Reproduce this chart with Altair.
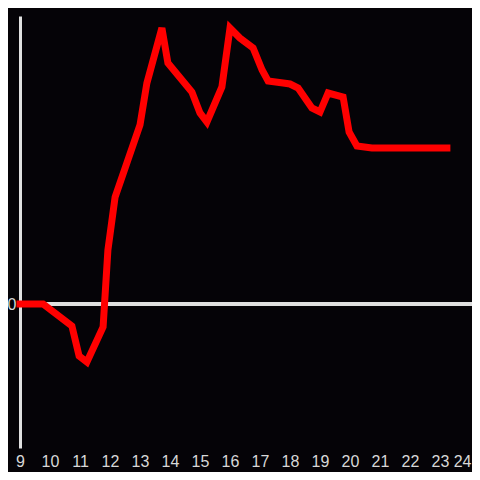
import altair as alt
import pandas as pd

hours = [9.0, 9.77, 10.73, 10.97, 11.23, 11.77, 11.93, 12.17, 13.0, 13.23, 13.73, 13.93,
         14.73, 15.0, 15.23, 15.73, 16.0, 16.33, 16.77, 17.07, 17.27, 17.77, 18.0, 18.27,
         18.73, 19.0, 19.27, 19.77, 19.97, 20.23, 20.73, 23.23]
values = [0, 0, -22, -52, -58, -23, 54, 107, 179, 221, 276, 241,
          212, 191, 182, 217, 276, 266, 256, 234, 223, 221, 220, 216,
          196, 192, 211, 207, 172, 158, 156, 156]
x_ticks = list(range(9, 25))

df = pd.DataFrame({"hour": hours, "value": values})

x_max = 9 + 452 / 30
xs = alt.Scale(domain=[9, x_max], nice=False, zero=False)
ys = alt.Scale(domain=[-144, 288], nice=False, zero=False)

x_axis = alt.Axis(values=x_ticks, title=None, domain=False, ticks=False, grid=False,
                  labelColor="#d8d8d8", labelFont="Liberation Sans", labelFontSize=16,
                  labelPadding=5, labelFlush=False, labelOverlap=False,
                  labelAlign=alt.expr("datum.value == 24 ? 'right' : 'center'"),
                  labelOffset=alt.expr("datum.value == 24 ? 1 : 0"))
y_axis = alt.Axis(values=[0], title=None, domain=True, domainColor="#e0e0e0",
                  domainWidth=3, ticks=False, grid=False,
                  labelColor="#d8d8d8", labelFont="Liberation Sans", labelFontSize=16,
                  labelPadding=4)

zero = alt.Chart(df).mark_rule(color="#e0e0e0", strokeWidth=3).encode(
    y=alt.datum(0, type="quantitative", scale=ys, axis=y_axis),
    x=alt.datum(9, type="quantitative", scale=xs, axis=x_axis),
    x2=alt.datum(x_max),
)

line = alt.Chart(df).mark_line(color="#ff0000", strokeWidth=7, strokeCap="square").encode(
    x=alt.X("hour:Q", scale=xs, axis=x_axis),
    y=alt.Y("value:Q", scale=ys, axis=y_axis),
)

chart = alt.layer(zero, line).properties(
    width=452, height=432,
    background="#050307",
    autosize=alt.AutoSizeParams(type="none"),
    padding={"left": 12, "top": 8, "right": 0, "bottom": 24},
).configure_view(stroke=None)

chart.save("out.html", embed_options={"renderer": "svg", "actions": False})
